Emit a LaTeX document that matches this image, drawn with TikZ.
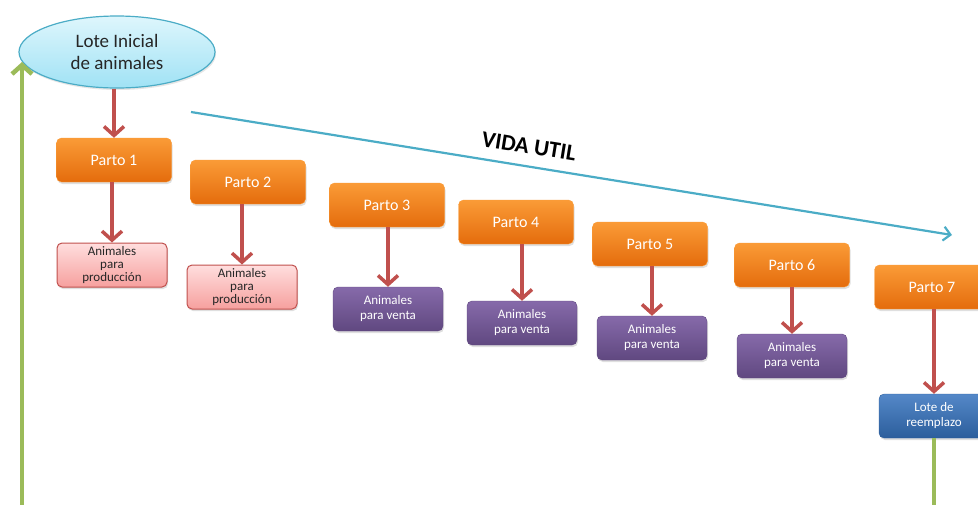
\documentclass[tikz,border=0pt]{standalone}
\usepackage{fontspec}
\setmainfont{Carlito}
\usetikzlibrary{arrows.meta, calc, positioning, shapes.geometric, shadows}
\definecolor{myOrangeTop}{RGB}{250,155,55}
\definecolor{myOrangeBot}{RGB}{228,108,12}
\definecolor{myPinkTop}{RGB}{255,222,222}
\definecolor{myPinkBot}{RGB}{246,160,158}
\definecolor{myRed}{RGB}{192,80,77}
\definecolor{myPurpleTop}{RGB}{134,106,170}
\definecolor{myPurpleBot}{RGB}{96,72,128}
\definecolor{myBlueTop}{RGB}{84,136,200}
\definecolor{myBlueBot}{RGB}{44,94,156}
\definecolor{myCyanTop}{RGB}{222,246,252}
\definecolor{myCyanBot}{RGB}{160,226,245}
\definecolor{myCyanLine}{RGB}{75,172,198}
\definecolor{myGreen}{RGB}{155,187,89}
\tikzstyle{box}= [rounded corners=5pt, drop shadow={opacity=0.25, shadow xshift=1pt, shadow yshift=-2pt}]
\tikzstyle{Parto}= [box, minimum width=115pt, minimum height=44pt, top color=myOrangeTop, bottom color=myOrangeBot, draw=myOrangeTop, text=white, font=\fontsize{16}{18}\selectfont]
\tikzstyle{Prod}= [box, minimum width=110pt, minimum height=44pt, top color=myPinkTop, bottom color=myPinkBot, draw=myRed, line width=1pt, align=center, inner sep=0pt, text=black!85, font=\fontsize{13}{13}\selectfont]
\tikzstyle{Venta}= [box, minimum width=110pt, minimum height=44pt, top color=myPurpleTop, bottom color=myPurpleBot, draw=myPurpleBot, align=center, text=white, font=\fontsize{13}{15}\selectfont]
\tikzstyle{Reemplazo}= [Venta, top color=myBlueTop, bottom color=myBlueBot, draw=myBlueBot]
\tikzstyle{flecha}= [line width=3.5pt, draw=myRed, -{Straight Barb[length=9pt, width=20pt]}]

\begin{document}
\begin{tikzpicture}[x=1pt, y=-1pt]
    \useasboundingbox (0,0) rectangle (978,504);
    \clip (0,0) rectangle (978,504);

    % lote inicial
    \node [ellipse, minimum width=196pt, minimum height=72pt, inner sep=0pt,
           top color=myCyanTop, bottom color=myCyanBot, draw=myCyanLine, line width=1.2pt,
           drop shadow={opacity=0.2, shadow xshift=1pt, shadow yshift=-2pt},
           align=center, text=black!85, font=\fontsize{19}{22}\selectfont]
        (Lote) at (117,52) {Lote Inicial\\de animales};

    % partos
    \node [Parto] (Parto1) at (114,160) {Parto 1};
    \node [Parto] (Parto2) at (248,182) {Parto 2};
    \node [Parto] (Parto3) at (387,205) {Parto 3};
    \node [Parto] (Parto4) at (516,222) {Parto 4};
    \node [Parto] (Parto5) at (650,244) {Parto 5};
    \node [Parto] (Parto6) at (792,265) {Parto 6};
    \node [Parto] (Parto7) at (932,287) {Parto 7};

    % destino de las crias
    \node [Prod] (Prod1) at (112,265) {Animales\\para\\producción};
    \node [Prod] (Prod2) at (242,287) {Animales\\para\\producción};
    \node [Venta] (Venta3) at (388,309) {Animales\\para venta};
    \node [Venta] (Venta4) at (522,323) {Animales\\para venta};
    \node [Venta] (Venta5) at (652,338) {Animales\\para venta};
    \node [Venta] (Venta6) at (792,356) {Animales\\para venta};
    \node [Reemplazo] (Reemplazo) at (934,416) {Lote de\\reemplazo};

    % flechas rojas
    \draw[flecha] (Parto1.north |- Lote.south) -- (Parto1.north);
    \draw[flecha] (Prod1.north |- Parto1.south) -- (Prod1.north);
    \draw[flecha] (Prod2.north |- Parto2.south) -- (Prod2.north);
    \draw[flecha] (Venta3.north |- Parto3.south) -- (Venta3.north);
    \draw[flecha] (Venta4.north |- Parto4.south) -- (Venta4.north);
    \draw[flecha] (Venta5.north |- Parto5.south) -- (Venta5.north);
    \draw[flecha] (Venta6.north |- Parto6.south) -- (Venta6.north);
    \draw[flecha] (Reemplazo.north |- Parto7.south) -- (Reemplazo.north);

    % vida util
    \coordinate (VidaIni) at (191,112);
    \coordinate (VidaFin) at (952,235);
    \draw[myCyanLine, line width=2.2pt, -{Straight Barb[length=7pt, width=14pt]}]
        (VidaIni) -- (VidaFin)
        node[pos=0.44, sloped, above=8pt, text=black, font=\fontsize{23}{26}\selectfont\bfseries] {VIDA UTIL};

    % retorno del lote de reemplazo
    \coordinate (Retorno) at (22,62);
    \draw[myGreen, line width=4.5pt, -{Straight Barb[length=9pt, width=20pt]}]
        (Reemplazo.south) -- ++(0,100) -| (Retorno);

\end{tikzpicture}
\end{document}
